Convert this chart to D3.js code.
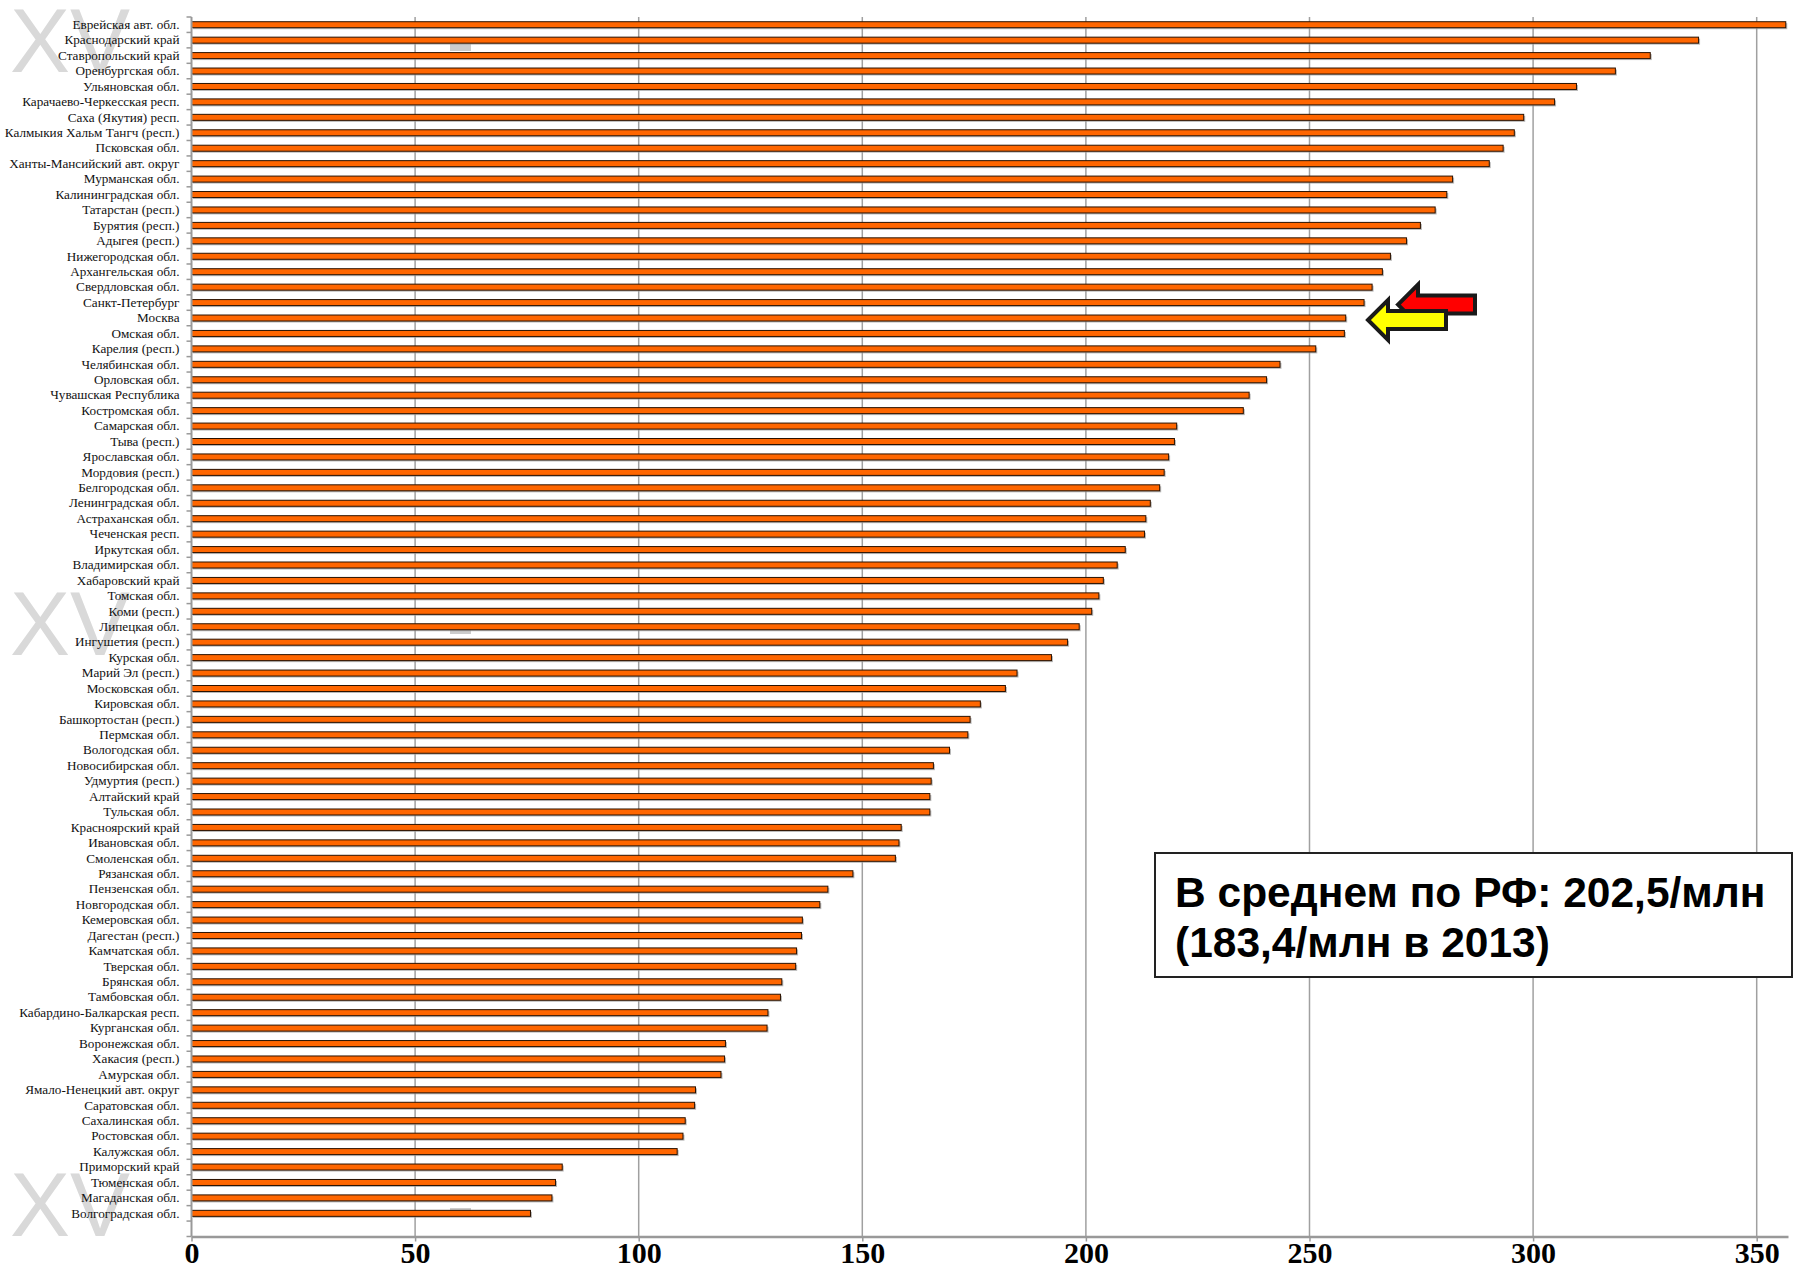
<!DOCTYPE html>
<meta charset="utf-8">

<head>
    <title>Regions bar chart</title>
</head>

<style>
    body { margin: 0; background: #fff; }
    .cat text { font-family: "Liberation Serif", "Times New Roman", serif; font-size: 13.2px; fill: #111; }
    .xax text { font-family: "Liberation Serif", "Times New Roman", serif; font-size: 30px; font-weight: bold; fill: #000; }
    .note { font-family: "Liberation Sans", Arial, sans-serif; font-size: 42.5px; font-weight: bold; fill: #000; }
    .wm { font-family: "Liberation Sans", Arial, sans-serif; font-size: 90px; fill: #d9d9d9; }
</style>

<body>
    <svg width="1800" height="1270"></svg>

    <script src="https://cdnjs.cloudflare.com/ajax/libs/d3/7.8.5/d3.min.js"></script>
    <script>
        // regions, top to bottom
        var regions = [
            'Еврейская авт. обл.', 'Краснодарский край', 'Ставропольский край', 'Оренбургская обл.',
            'Ульяновская обл.', 'Карачаево-Черкесская респ.', 'Саха (Якутия) респ.', 'Калмыкия Хальм Тангч (респ.)',
            'Псковская обл.', 'Ханты-Мансийский авт. округ', 'Мурманская обл.', 'Калининградская обл.',
            'Татарстан (респ.)', 'Бурятия (респ.)', 'Адыгея (респ.)', 'Нижегородская обл.',
            'Архангельская обл.', 'Свердловская обл.', 'Санкт-Петербург', 'Москва',
            'Омская обл.', 'Карелия (респ.)', 'Челябинская обл.', 'Орловская обл.',
            'Чувашская Республика', 'Костромская обл.', 'Самарская обл.', 'Тыва (респ.)',
            'Ярославская обл.', 'Мордовия (респ.)', 'Белгородская обл.', 'Ленинградская обл.',
            'Астраханская обл.', 'Чеченская респ.', 'Иркутская обл.', 'Владимирская обл.',
            'Хабаровский край', 'Томская обл.', 'Коми (респ.)', 'Липецкая обл.',
            'Ингушетия (респ.)', 'Курская обл.', 'Марий Эл (респ.)', 'Московская обл.',
            'Кировская обл.', 'Башкортостан (респ.)', 'Пермская обл.', 'Вологодская обл.',
            'Новосибирская обл.', 'Удмуртия (респ.)', 'Алтайский край', 'Тульская обл.',
            'Красноярский край', 'Ивановская обл.', 'Смоленская обл.', 'Рязанская обл.',
            'Пензенская обл.', 'Новгородская обл.', 'Кемеровская обл.', 'Дагестан (респ.)',
            'Камчатская обл.', 'Тверская обл.', 'Брянская обл.', 'Тамбовская обл.',
            'Кабардино-Балкарская респ.', 'Курганская обл.', 'Воронежская обл.', 'Хакасия (респ.)',
            'Амурская обл.', 'Ямало-Ненецкий авт. округ', 'Саратовская обл.', 'Сахалинская обл.',
            'Ростовская обл.', 'Калужская обл.', 'Приморский край', 'Тюменская обл.',
            'Магаданская обл.', 'Волгоградская обл.'
        ]

        // rate per million
        var rates = [
            356.5, 337.0, 326.2, 318.4, 309.7, 304.8, 297.9, 295.8,
            293.3, 290.2, 282.0, 280.7, 278.1, 274.8, 271.7, 268.1,
            266.3, 264.0, 262.2, 258.1, 257.8, 251.4, 243.4, 240.4,
            236.5, 235.2, 220.3, 219.8, 218.5, 217.5, 216.5, 214.4,
            213.4, 213.1, 208.8, 207.0, 203.9, 202.9, 201.3, 198.5,
            195.9, 192.3, 184.6, 182.0, 176.4, 174.1, 173.6, 169.5,
            165.9, 165.4, 165.1, 165.1, 158.7, 158.2, 157.4, 147.9,
            142.3, 140.5, 136.6, 136.4, 135.3, 135.1, 132.0, 131.7,
            128.9, 128.7, 119.4, 119.2, 118.4, 112.7, 112.5, 110.4,
            109.9, 108.6, 82.9, 81.4, 80.6, 75.8
        ]

        var xTicks = [0, 50, 100, 150, 200, 250, 300, 350]
        var xMax = 357

        var noteLines = ['В среднем по РФ: 202,5/млн', '(183,4/млн в 2013)']

        var data = regions.map(function (r, i) { return { name: r, v: rates[i] } })

        // note: "top" is a reserved window property, so plot* names
        var plotL = 191.5, plotR = 1788, plotT = 17, plotB = 1236.5
        var step = (plotB - plotT) / (regions.length + 1)

        var svg = d3.select('svg')

        // watermarks from the slide template
        ;[72, 655, 1236].forEach(function (yy) {
            svg.append('text').attr('class', 'wm').attr('x', 10).attr('y', yy).text('XV')
            svg.append('rect').attr('x', 450).attr('y', yy - 28).attr('width', 21).attr('height', 7)
                .attr('fill', '#bfbfbf').attr('opacity', 0.8)
        })

        var x = d3.scaleLinear().domain([0, xMax]).range([plotL, plotR])
        var y = d3.scaleBand().domain(regions).range([plotT, plotT + step * regions.length])

        // vertical gridlines
        svg.append('g').selectAll('line')
            .data(xTicks.slice(1))
            .enter().append('line')
            .attr('x1', function (d) { return x(d) }).attr('x2', function (d) { return x(d) })
            .attr('y1', plotT).attr('y2', plotB)
            .attr('stroke', '#a0a0a0').attr('stroke-width', 1.5)

        // bars with shadow
        var bh = 6
        svg.append('g').selectAll('rect')
            .data(data)
            .enter().append('rect')
            .attr('x', x(0) + 1.5)
            .attr('y', function (d) { return y(d.name) + step / 2 - bh / 2 + 1.5 })
            .attr('width', function (d) { return x(d.v) - x(0) })
            .attr('height', bh)
            .attr('fill', '#9a9a9a').attr('opacity', 0.7)

        svg.append('g').selectAll('rect')
            .data(data)
            .enter().append('rect')
            .attr('x', x(0))
            .attr('y', function (d) { return y(d.name) + step / 2 - bh / 2 })
            .attr('width', function (d) { return x(d.v) - x(0) })
            .attr('height', bh)
            .attr('fill', '#ff6600').attr('stroke', '#2a1200').attr('stroke-width', 1)

        // y axis: labels + boundary ticks
        var yAxis = svg.append('g').attr('class', 'cat')
            .attr('transform', 'translate(' + plotL + ',0)')
            .call(d3.axisLeft(y).tickSize(0).tickPadding(12))
        yAxis.select('.domain').remove()

        svg.append('line').attr('x1', plotL).attr('x2', plotL).attr('y1', plotT).attr('y2', plotB)
            .attr('stroke', '#999').attr('stroke-width', 2)
        svg.append('g').selectAll('line')
            .data(d3.range(regions.length + 2))
            .enter().append('line')
            .attr('x1', plotL - 5).attr('x2', plotL)
            .attr('y1', function (i) { return plotT + i * step }).attr('y2', function (i) { return plotT + i * step })
            .attr('stroke', '#999').attr('stroke-width', 1.5)

        // x axis
        var xAxis = svg.append('g').attr('class', 'xax')
            .attr('transform', 'translate(0,' + plotB + ')')
            .call(d3.axisBottom(x).tickValues(xTicks).tickSize(5).tickPadding(0).tickSizeOuter(0))
        xAxis.select('.domain').attr('stroke', '#999').attr('stroke-width', 2.5)
        xAxis.selectAll('.tick line').attr('stroke', '#999').attr('stroke-width', 1.5)

        // arrows pointing at Санкт-Петербург and Москва
        function arrow(tipX, cy, len, fill) {
            var hw = 20, sw = 9, hl = 20
            var pts = [
                [tipX, cy], [tipX + hl, cy - hw], [tipX + hl, cy - sw], [tipX + len, cy - sw],
                [tipX + len, cy + sw], [tipX + hl, cy + sw], [tipX + hl, cy + hw]
            ]
            svg.append('polygon')
                .attr('points', pts.map(function (p) { return p.join(',') }).join(' '))
                .attr('fill', fill).attr('stroke', '#1a1a1a').attr('stroke-width', 4)
                .attr('stroke-linejoin', 'miter')
        }
        arrow(1398, y('Санкт-Петербург') + step / 2 + 2, 77, '#ff0000')
        arrow(1368, y('Москва') + step / 2 + 2, 78, '#ffff00')

        // note box
        svg.append('rect').attr('x', 1155).attr('y', 853).attr('width', 637).attr('height', 124)
            .attr('fill', '#fff').attr('stroke', '#222').attr('stroke-width', 2)
        svg.selectAll('.note')
            .data(noteLines)
            .enter().append('text')
            .attr('class', 'note')
            .attr('x', 1175)
            .attr('y', function (d, i) { return 907 + i * 50 })
            .text(function (d) { return d })
    </script>
</body>

</html>
